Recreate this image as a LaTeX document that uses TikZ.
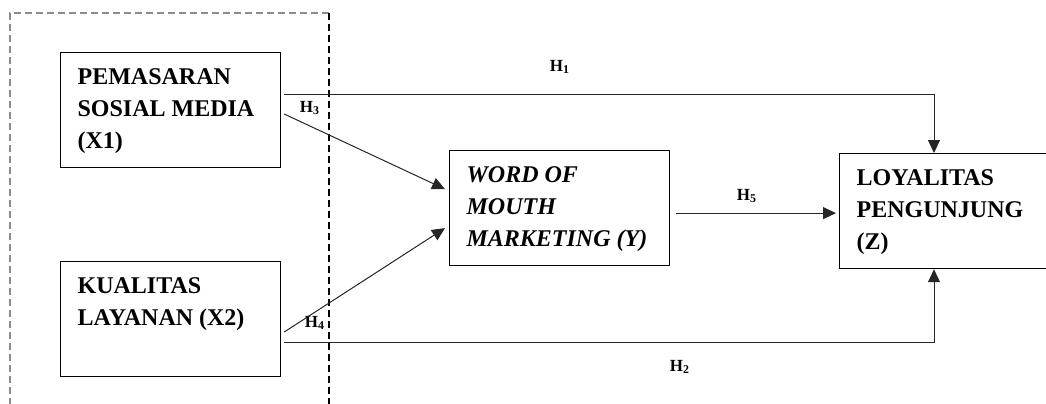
\documentclass[tikz,border=0pt]{standalone}
\usepackage{fontspec}
\setmainfont{Liberation Serif}
\usetikzlibrary{arrows.meta,calc}

\newcommand{\vartext}[2][93pt]{\parbox[c][41.5pt][t]{#1}{#2}}

\begin{document}
\begin{tikzpicture}[x=0.5pt,y=-0.5pt,
	varbox/.style={draw, line width=0.6pt, anchor=north west, inner xsep=8.5pt, inner ysep=8pt, font=\fontsize{12}{16}\selectfont\bfseries},
	hline/.style={draw=black!85, line width=0.5pt, -{Triangle[length=6.5pt,width=6pt]}},
	hyp/.style={font=\fontsize{8.5}{9}\selectfont\bfseries},
	group/.style={line width=0.6pt, dash pattern=on 3.5pt off 2pt}]
	
	\useasboundingbox (0,0) rectangle (1046,403);
	\clip (0,0) rectangle (1046,403);
	
	% Define the variables
	\node[varbox] (x1) at (60,52) {\vartext{PEMASARAN\\SOSIAL MEDIA\\(X1)}};
	\node[varbox] (x2) at (60,261) {\vartext{KUALITAS\\LAYANAN (X2)}};
	\node[varbox] (y) at (449,150) {\vartext{\itshape WORD OF\\MOUTH\\MARKETING (Y)}};
	\node[varbox] (z) at (839,153) {\vartext[200pt]{LOYALITAS\\PENGUNJUNG\\(Z)}};
	
	% Group of the independent variables
	\draw[group, draw=black!45] (329,13) -| (10,420);
	\draw[group] (329,13) -- (329,420);
	
	% Draw the hypotheses
	\draw[hline] ($(x1.north east)+(3,42)$) -| ($(z.north west)+(95,0)$);
	\draw[hline] ($(x1.north east)+(3,62)$) -- ($(y.west)+(-4,-19)$);
	\draw[hline] ($(x2.north east)+(3,71)$) -- ($(y.west)+(-4,20)$);
	\draw[hline] ($(x2.north east)+(3,81)$) -| ($(z.south west)+(95,0)$);
	\draw[hline] ($(y.east)+(6,5)$) -- ($(z.west)+(-3,2)$);
	
	% Label the hypotheses
	\node[hyp] (h1) at (560,67) {H\textsubscript{1}};
	\node[hyp] (h2) at (680,367) {H\textsubscript{2}};
	\node[hyp] (h3) at (310,108) {H\textsubscript{3}};
	\node[hyp] (h4) at (315,323) {H\textsubscript{4}};
	\node[hyp] (h5) at (747,196) {H\textsubscript{5}};
	
\end{tikzpicture}
\end{document}
